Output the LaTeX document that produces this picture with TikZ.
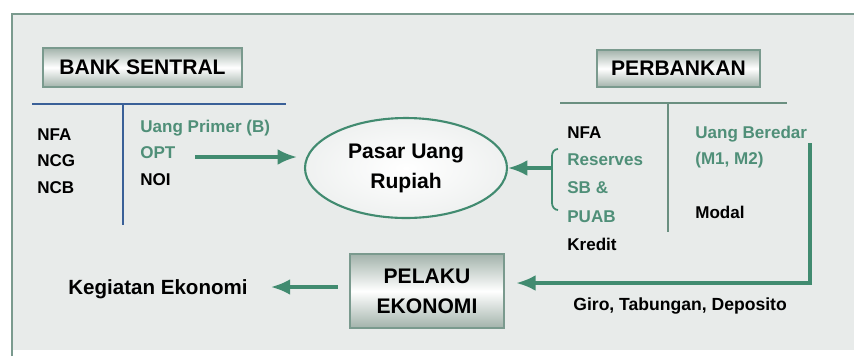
\documentclass[tikz,border=0pt]{standalone}
\usepackage{fontspec}
\setmainfont{Liberation Sans}
\usetikzlibrary{arrows.meta,shapes.geometric}

\definecolor{panelfill}{HTML}{E8EBEA}
\definecolor{panelline}{HTML}{7A9A8E}
\definecolor{arrowgreen}{HTML}{418B70}
\definecolor{textgreen}{HTML}{4F8F78}
\definecolor{lineblue}{HTML}{3A6098}
\definecolor{linegreen}{HTML}{6A8F80}
\definecolor{boxshade}{HTML}{A3B3AB}

\tikzset{
  titlebox/.style={draw=panelline, line width=0.9pt, top color=boxshade, bottom color=boxshade,
    middle color=white, inner sep=0pt, outer sep=0pt, align=center,
    font=\bfseries\fontsize{12}{17}\selectfont},
  label/.style={inner sep=0pt, anchor=base west, font=\bfseries\fontsize{9.7}{12}\selectfont},
  green label/.style={label, text=textgreen},
  flow/.style={draw=arrowgreen, line width=1.8pt, -{Latex[length=11pt,width=9pt]}},
}

\begin{document}
\begin{tikzpicture}[x=0.02cm, y=-0.02cm]
  \useasboundingbox (0,0) rectangle (854,356);
  % Panel
  \fill[panelfill] (12,14) rectangle (860,350);
  \draw[panelline, line width=1.6pt] (12,356) -- (12,14) -- (860,14);

  % Bank Sentral
  \node[titlebox, minimum width=3.98cm, minimum height=0.78cm] (bank) at (142.5,67.5) {BANK SENTRAL};
  \draw[lineblue, line width=1.2pt] (32,104) -- (286,104);
  \draw[lineblue, line width=1.2pt] (123,104) -- (123,225);
  \node[label] (nfa) at (37,140) {NFA};
  \node[label] (ncg) at (37,166) {NCG};
  \node[label] (ncb) at (37,193) {NCB};
  \node[green label] (primer) at (140,132) {Uang Primer (B)};
  \node[green label] (opt) at (140,158) {OPT};
  \node[label] (noi) at (140,185) {NOI};

  % Pasar uang
  \node[ellipse, draw=arrowgreen, line width=1.2pt, inner color=white, outer color=panelfill!70!white,
    minimum width=4.04cm, minimum height=2cm, align=center,
    font=\bfseries\fontsize{12}{17}\selectfont] (pasar) at (406,168) {Pasar Uang\\Rupiah};

  % Perbankan
  \node[titlebox, minimum width=3.26cm, minimum height=0.74cm] (perbankan) at (678.5,68.5) {PERBANKAN};
  \draw[linegreen, line width=1.2pt] (560,103) -- (787,103);
  \draw[linegreen, line width=1.2pt] (668,103) -- (668,232);
  \node[label] (nfab) at (567,138) {NFA};
  \node[green label] (reserves) at (567,165) {Reserves};
  \node[green label] (sb) at (567,193) {SB \&};
  \node[green label] (puab) at (567,222) {PUAB};
  \node[label] (kredit) at (567,250) {Kredit};
  \node[green label] (beredar) at (695,138) {Uang Beredar};
  \node[green label] (m1m2) at (695,164) {(M1, M2)};
  \node[label] (modal) at (695,218) {Modal};

  % Kurung kurawal
  \draw[arrowgreen, line width=1pt] (558,149) to[out=180,in=90] (552,156) -- (552,203) to[out=-90,in=180] (558,210);
  \coordinate (brace) at (553,168);

  % Pelaku ekonomi
  \node[titlebox, minimum width=3.08cm, minimum height=1.48cm] (pelaku) at (427,291) {PELAKU\\EKONOMI};
  \node[label, font=\bfseries\fontsize{11.7}{14}\selectfont] (kegiatan) at (68,294) {Kegiatan Ekonomi};
  \coordinate (deptop) at (810,143);
  \coordinate (dep) at (810,283);
  \node[label, font=\bfseries\fontsize{10}{12}\selectfont] (giro) at (573,310) {Giro, Tabungan, Deposito};

  % Panah
  \draw[flow] ([xshift=11pt]opt.east |- 0,157) -- ([xshift=-4pt]pasar.west |- 0,157);
  \draw[flow] (brace) -- (pasar.east);
  \draw[flow] (deptop) -- (dep) -- ([xshift=7pt]pelaku.east |- dep);
  \draw[flow] ([xshift=-7pt]pelaku.west |- 0,287) -- ([xshift=13pt]kegiatan.east |- 0,287);
\end{tikzpicture}
\end{document}
